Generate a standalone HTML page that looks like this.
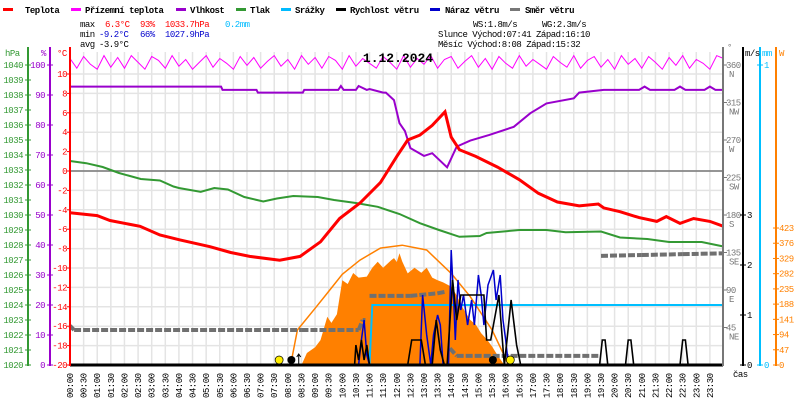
<!DOCTYPE html>
<html><head><meta charset="utf-8"><style>
body{margin:0;background:#fff;width:800px;height:400px;overflow:hidden}
svg{display:block;font-family:"Liberation Mono",monospace;font-size:9px;letter-spacing:-0.5px}
</style></head><body>
<svg id="c" width="800" height="400" viewBox="0 0 800 400">
<g id="grid"></g>
<g id="series"></g>
<g id="axes"></g>
<g id="header">
<g font-weight="bold">
<rect x="3" y="8" width="10" height="3" fill="#f00"/><text x="25" y="13">Teplota</text>
<rect x="71" y="8" width="10" height="3" fill="#f0f"/><text x="85" y="13">Přízemní teplota</text>
<rect x="176" y="8" width="10" height="3" fill="#90c"/><text x="190" y="13">Vlhkost</text>
<rect x="236" y="8" width="10" height="3" fill="#393"/><text x="250" y="13">Tlak</text>
<rect x="281" y="8" width="10" height="3" fill="#0bf"/><text x="295" y="13">Srážky</text>
<rect x="336" y="8" width="10" height="3" fill="#000"/><text x="350" y="13">Rychlost větru</text>
<rect x="430" y="8" width="10" height="3" fill="#00c"/><text x="445" y="13">Náraz větru</text>
<rect x="510" y="8" width="10" height="3" fill="#777"/><text x="525" y="13">Směr větru</text>
</g>
<g>
<text x="80" y="27">max</text><text x="105" y="27" fill="#f00">6.3°C</text><text x="140" y="27" fill="#f00">93%</text><text x="165" y="27" fill="#f00">1033.7hPa</text><text x="225" y="27" fill="#0bf">0.2mm</text>
<text x="80" y="37">min</text><text x="99" y="37" fill="#00c">-9.2°C</text><text x="140" y="37" fill="#00c">66%</text><text x="165" y="37" fill="#00c">1027.9hPa</text>
<text x="80" y="47">avg</text><text x="99" y="47">-3.9°C</text>
<text x="473" y="27">WS:1.8m/s</text><text x="542" y="27">WG:2.3m/s</text>
<text x="438" y="37">Slunce Východ:07:41  Západ:16:10</text>
<text x="438" y="47">Měsíc  Východ:8:08   Západ:15:32</text>
</g>
<text x="398" y="62" text-anchor="middle" font-size="13" font-weight="bold" letter-spacing="0">1.12.2024</text>
</g>
</svg>
<script>
// ---- data ----
const tempT = [0,1,1.47,2.57,3.3,4.04,5.14,5.9,6.6,7.7,8.45,9.2,9.9,10.65,11.4,12,12.4,12.85,13.3,13.77,14,14.3,14.9,15.7,16.5,17.2,17.9,18.7,19.4,19.6,20.2,20.9,21.55,21.9,22.4,22.9,23.5,24];
const tempV = [-4.3,-4.6,-5.1,-5.7,-6.6,-7.1,-7.8,-8.4,-8.8,-9.2,-8.8,-7.3,-4.9,-3.3,-1.2,1.5,3.2,3.7,4.7,6.1,3.5,2.2,1.5,0.4,-0.9,-2.3,-3.2,-3.6,-3.4,-3.8,-4.2,-4.8,-5.2,-4.7,-5.4,-4.9,-5.2,-5.7];
const appV = [11.6,10.6,11.8,11.0,10.5,11.9,10.7,11.7,10.6,11.9,11.2,10.5,11.8,11.4,10.6,11.9,10.8,11.5,10.5,11.2,11.9,10.7,11.6,11.1,10.5,11.8,10.9,11.7,10.6,11.3,11.9,10.8,11.5,10.5,11.9,11.0,11.7,10.6,11.8,11.4,10.5,11.9,10.8,11.6,11.1,10.6,11.8,11.2,10.5,11.9,10.7,11.6,11.0,11.9,10.6,11.5,11.8,10.6,11.3,11.9,10.7,11.6,10.5,11.8,11.1,10.6,11.9,10.8,11.5,11.0,10.5,11.8,11.2,10.7,11.9,10.6,11.4,11.8,10.7,11.5,10.5,11.9,11.0,11.6,10.6,11.8,11.2,10.5,11.7,10.9,11.9,10.6,11.5,11.1,10.5,11.9,11.6];
const humT = [0,5.55,5.6,6.85,6.9,8.55,8.6,9.85,9.95,10.05,10.5,10.6,10.9,11.0,11.5,11.6,11.9,12.1,12.3,12.5,13,13.3,13.85,14.2,14.7,15.4,16.3,16.9,17.5,18.5,18.7,19.6,20.9,21.1,21.3,22.2,22.4,22.6,23.3,23.5,23.7,24];
const humV = [92.8,92.8,91.7,91.7,90.8,90.8,91.7,91.7,93,91.7,91.7,93,91.7,92,90.8,90.8,88.3,80.6,78,72.3,69.7,70.6,65.9,72.8,74.8,76.7,79.4,83.9,87.2,88.9,90.8,91.7,91.7,92.8,91.7,91.7,92.8,91.7,91.7,92.8,91.7,91.7];
const presT = [0,0.6,1.2,1.8,2.6,3.3,3.8,4,4.8,5.3,5.8,6.4,7.1,7.6,8.2,9.1,9.7,10.5,11.3,12.1,12.85,13.55,14.3,15.05,15.3,16.5,17.5,18.2,19.5,20.2,21.2,22.0,23.2,24];
const presV = [1033.6,1033.45,1033.2,1032.8,1032.4,1032.3,1031.9,1031.8,1031.55,1031.8,1031.7,1031.2,1030.9,1031.1,1031.27,1031.2,1031.0,1030.8,1030.55,1030.07,1029.45,1029.0,1028.55,1028.6,1028.8,1029.0,1029.0,1028.85,1028.9,1028.5,1028.4,1028.2,1028.2,1027.9];
const dirT = [0,0.15,8.5,10.5,10.6,10.75,10.85,11.0,12.5,13.5,13.8,13.95,14.2,16.5,19.45,19.5,21,22.5,24];
const dirV = [47,42,42,42,42,54,54,83,83,86,88,20,11,11,11,131,132,133,134];
const radT = [8.5,8.7,9.0,9.2,9.45,9.6,9.8,10.0,10.2,10.4,10.6,10.9,11.1,11.3,11.5,11.8,11.9,12.0,12.1,12.2,12.4,12.65,12.9,13.1,13.3,13.5,13.7,14.0,14.2,14.4,14.7,14.9,15.1,15.3,15.5,15.7,15.9,16.0];
const radV = [0,37,55,77,149,130,157,262,250,284,270,273,300,319,300,324,330,318,345,320,283,300,285,300,270,262,255,242,215,180,139,125,98,80,57,30,6,0];
const clearT = [8.1,8.35,9.0,9.45,10.0,10.65,11.4,12.2,13.1,14.0,14.7,15.5,15.9,16.1];
const clearV = [0,108,175,222,280,324,361,370,355,283,211,108,37,0];
const rainT = [0,11.0,11.1,24];
const rainV = [0,0,0.2,0.2];
const windT = [0,10.45,10.5,10.6,10.7,10.8,10.9,11,12.4,12.55,12.9,13.05,13.3,13.45,13.6,13.75,13.85,14.05,14.2,14.35,15.2,15.3,15.45,15.75,15.95,16.05,16.2,16.4,16.55,19.45,19.55,19.65,19.75,20.4,20.5,20.6,20.7,22.4,22.5,22.6,22.7,24];
const windV = [0,0,0.4,0.1,0.5,0.1,0.4,0,0,0.5,0.5,0,0,0.9,0.3,0,0,1.7,0.9,1.4,1.4,0.5,0.5,1.4,0,0.5,1.3,0.4,0,0,0.5,0.5,0,0,0.5,0.5,0,0,0.5,0.5,0,0];
const gustT = [10.6,10.7,10.8,10.9,11,12.85,12.95,13.1,13.25,13.35,13.5,13.6,13.7,13.9,14.0,14.1,14.15,14.25,14.35,14.45,14.6,14.75,14.85,15.0,15.1,15.2,15.35,15.55,15.65,15.8,15.9,16.0,16.1];
const gustV = [0,0.5,0.9,0.2,0,0,1.4,0.6,0,0.6,1.0,0.8,0,0,2.3,1.2,0.5,1.7,1.1,1.4,0.8,1.3,0.8,1.8,1.4,0.8,1.6,1.9,1.3,1.8,0.9,0.5,0];
const hourLabels = ["00","01","02","03","04","05","06","07","08","09","10","11","12","13","14","15","16","17","18","19","20","21","22","23"];
const tempTicks = [10,8,6,4,2,0,-2,-4,-6,-8,-10,-12,-14,-16,-18,-20];
const presTicks = [1040,1039,1038,1037,1036,1035,1034,1033,1032,1031,1030,1029,1028,1027,1026,1025,1024,1023,1022,1021,1020];
const humTicks = [100,90,80,70,60,50,40,30,20,10,0];
const dirTicks = [360,315,270,225,180,135,90,45];
const dirNames = ["N","NW","W","SW","S","SE","E","NE"];
const msTicks = [0,1,2,3];
const wTicks = [0,47,94,141,188,235,282,329,376,423];

// ---- scales ----
const X=h=>70+h*27.23, YT=t=>171-t*9.7, YP=p=>365-(p-1020)*15, YH=v=>365-v*3;
const YD=d=>365-d/1.2, YW=v=>365-v*50, YR=w=>365-w/3.088, YM=m=>365-m*300;
const NS="http://www.w3.org/2000/svg";
function mk(tag,attrs,parent){const e=document.createElementNS(NS,tag);for(const k in attrs)e.setAttribute(k,attrs[k]);parent.appendChild(e);return e;}
const G=document.getElementById('grid'),S=document.getElementById('series'),A=document.getElementById('axes');
function pts(ts,vs,fx,fy){return ts.map((t,i)=>fx(t).toFixed(1)+','+fy(vs[i]).toFixed(1)).join(' ');}

// grid
for(let i=1;i<48;i++){mk('line',{x1:X(i/2),x2:X(i/2),y1:52,y2:365,stroke:'#e4e4e4','stroke-width':1.5},G);}
tempTicks.forEach(t=>{mk('line',{x1:70,x2:723,y1:YT(t),y2:YT(t),stroke:'#e4e4e4','stroke-width':1.5},G);});
const zl=mk('line',{x1:70,x2:723,y1:YT(0),y2:YT(0),stroke:'#777','stroke-width':1.5},G);



// radiation fill
let rp=radT.map((t,i)=>X(t).toFixed(1)+','+YR(radV[i]).toFixed(1)).join(' ');
const rad=mk('polygon',{points:X(radT[0])+',365 '+rp+' '+X(radT[radT.length-1])+',365',fill:'#ff8000'},S);


const clr=mk('polyline',{points:pts(clearT,clearV,X,YR),fill:'none',stroke:'#ff8000','stroke-width':1.5},S);


// wind direction: segments, no connectors across jumps
for(let i=0;i<dirT.length-1;i++){
  if(Math.abs(dirV[i+1]-dirV[i])>20) continue;
  const d=mk('line',{x1:X(dirT[i]),y1:YD(dirV[i]),x2:X(dirT[i+1]),y2:YD(dirV[i+1]),stroke:'#707070','stroke-width':4,'stroke-dasharray':'7 2'},S);
  
  
}
// rain
const rain=mk('polyline',{points:pts(rainT,rainV,X,YM),fill:'none',stroke:'#00bfff','stroke-width':2},S);


// pressure
const pr=mk('polyline',{points:pts(presT,presV,X,YP),fill:'none',stroke:'#339933','stroke-width':2},S);


// humidity
const hu=mk('polyline',{points:pts(humT,humV,X,YH),fill:'none',stroke:'#9900cc','stroke-width':2},S);


// apparent temp
const appT=appV.map((v,i)=>i*24/(appV.length-1));
const ap=mk('polyline',{points:pts(appT,appV,X,YT),fill:'none',stroke:'#ff00ff','stroke-width':1},S);


// temperature
const te=mk('polyline',{points:pts(tempT,tempV,X,YT),fill:'none',stroke:'#ff0000','stroke-width':3},S);


// gust
const gu=mk('polyline',{points:pts(gustT,gustV,X,YW),fill:'none',stroke:'#0000cc','stroke-width':1.5},S);


// wind speed
const ws=mk('polyline',{points:pts(windT,windV,X,YW),fill:'none',stroke:'#000','stroke-width':1.6},S);


mk('line',{x1:70,x2:723,y1:365,y2:365,stroke:'#000','stroke-width':3},S);
// sun/moon markers
[[7.68,'#ffee00'],[16.17,'#ffee00']].forEach(([h,c])=>{const s=mk('circle',{cx:X(h),cy:360,r:4,fill:c,stroke:'#000','stroke-width':0.7},S);

});
[[8.13],[15.53]].forEach(([h])=>{const s=mk('circle',{cx:X(h),cy:360,r:4,fill:'#000'},S);

});
mk('path',{d:`M${X(8.4)} 365V355M${X(8.4)-2} 357L${X(8.4)} 354L${X(8.4)+2} 357`,stroke:'#000',fill:'none','stroke-width':1},S);

// axes
function axis(x,color){mk('line',{x1:x,x2:x,y1:47,y2:366,stroke:color,'stroke-width':2},A);}
axis(28,'#339933');axis(50,'#9900cc');axis(70,'#ff0000');axis(723,'#777');axis(743,'#000');axis(760,'#00bfff');axis(776,'#ff8000');
function txt(x,y,s,color,anchor){const t=mk('text',{x:x,y:y,fill:color,'text-anchor':anchor||'start'},A);t.textContent=s;return t;}
txt(5,56,'hPa','#339933');txt(41,56,'%','#9900cc');txt(57,56,'°C','#f00');
txt(727,50,'°','#777');txt(745,56,'m/s','#000');txt(762,56,'mm','#00bfff');txt(779,56,'W','#ff8000');
presTicks.forEach(p=>{mk('line',{x1:25,x2:31,y1:YP(p),y2:YP(p),stroke:'#339933'},A);txt(23,YP(p)+3,p,'#339933','end');});
humTicks.forEach(v=>{mk('line',{x1:47,x2:53,y1:YH(v),y2:YH(v),stroke:'#9900cc'},A);txt(45,YH(v)+3,v,'#9900cc','end');});
tempTicks.forEach(t=>{mk('line',{x1:67,x2:70,y1:YT(t),y2:YT(t),stroke:'#f00'},A);txt(67,YT(t)+3,t,'#f00','end');});
dirTicks.forEach((d,i)=>{mk('line',{x1:723,x2:727,y1:YD(d),y2:YD(d),stroke:'#777'},A);txt(726,YD(d)+3,d,'#777');txt(729,YD(d)+12,dirNames[i],'#777');});
msTicks.forEach(v=>{mk('line',{x1:740,x2:746,y1:YW(v),y2:YW(v),stroke:'#000'},A);txt(747,YW(v)+3,v,'#000');});
[0,1].forEach(v=>{mk('line',{x1:757,x2:763,y1:YM(v),y2:YM(v),stroke:'#00bfff'},A);txt(764,YM(v)+3,v,'#00bfff');});
wTicks.forEach(v=>{mk('line',{x1:773,x2:779,y1:YR(v),y2:YR(v),stroke:'#ff8000'},A);txt(779,YR(v)+3,v,'#ff8000');});
txt(733,377,'čas','#000');
hourLabels.forEach((hh,i)=>{[0,30].forEach(m=>{const h=i+m/60;const t=mk('text',{x:0,y:0,transform:`translate(${X(h)+3},398) rotate(-90)`,fill:'#000'},A);t.textContent=hh+':'+(m?'30':'00');});});
</script>
</body></html>
